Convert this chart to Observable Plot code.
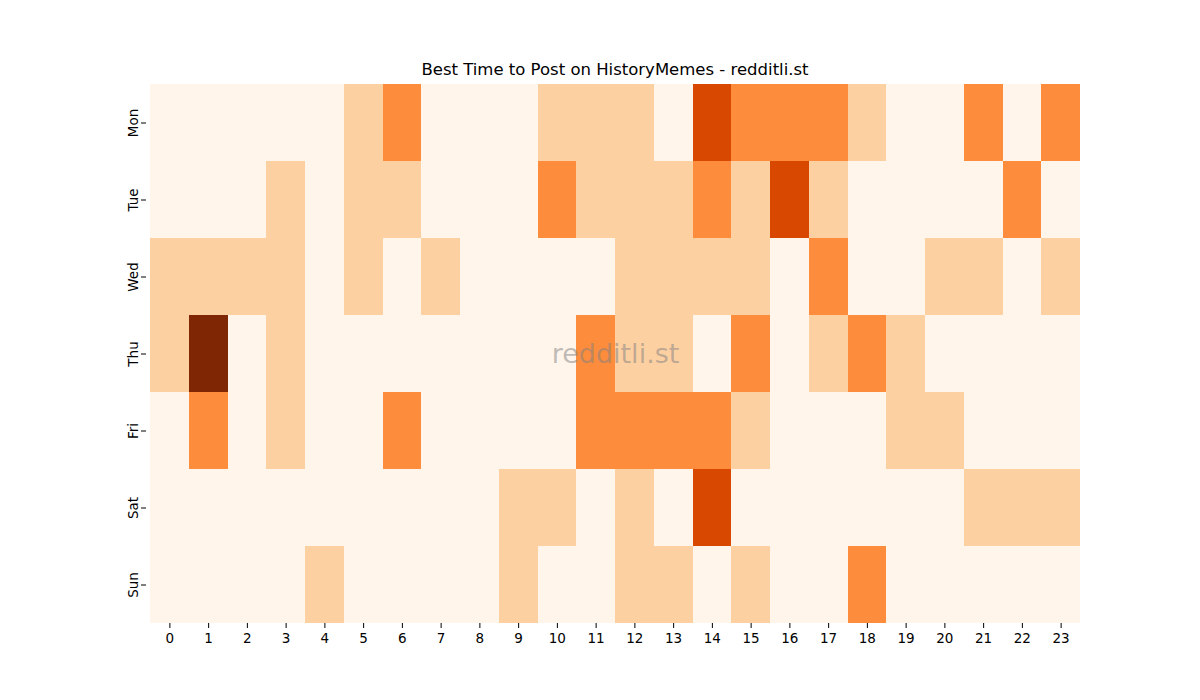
<!DOCTYPE html>
<html>
<head>
<meta charset="utf-8">
<script src="https://cdn.jsdelivr.net/npm/d3@7"></script>
<script src="https://cdn.jsdelivr.net/npm/@observablehq/plot@0.6"></script>
<style>
  html, body { margin: 0; padding: 0; background: #fff; }
  #wrap { width: 1200px; height: 700px; position: relative; font-family: "DejaVu Sans", sans-serif; }
  #title { position: absolute; left: 150px; width: 930px; top: 59px; line-height: 22px; text-align: center; font-size: 16.5px; color: #000; }
  #chart { position: absolute; left: 0; top: 84px; }
</style>
</head>
<body>
<div id="wrap">
  <div id="title">Best Time to Post on HistoryMemes - redditli.st</div>
  <div id="chart"></div>
</div>
<script>
const days = ["Mon", "Tue", "Wed", "Thu", "Fri", "Sat", "Sun"];
const hours = [0,1,2,3,4,5,6,7,8,9,10,11,12,13,14,15,16,17,18,19,20,21,22,23];
const mon = [0,0,0,0,0,1,2,0,0,0,1,1,1,0,3,2,2,2,1,0,0,2,0,2];
const tue = [0,0,0,1,0,1,1,0,0,0,2,1,1,1,2,1,3,1,0,0,0,0,2,0];
const wed = [1,1,1,1,0,1,0,1,0,0,0,0,1,1,1,1,0,2,0,0,1,1,0,1];
const thu = [1,4,0,1,0,0,0,0,0,0,0,2,1,1,0,2,0,1,2,1,0,0,0,0];
const fri = [0,2,0,1,0,0,2,0,0,0,0,2,2,2,2,1,0,0,0,1,1,0,0,0];
const sat = [0,0,0,0,0,0,0,0,0,1,1,0,1,0,3,0,0,0,0,0,0,1,1,1];
const sun = [0,0,0,0,1,0,0,0,0,1,0,0,1,1,0,1,0,0,2,0,0,0,0,0];
const levels = [0, 1, 2, 3, 4];
const levelColors = ["#fff5eb", "#fdd0a2", "#fd8d3c", "#d94801", "#7f2704"];
const watermark = "redditli.st";

const series = [mon, tue, wed, thu, fri, sat, sun];
const cells = [];
days.forEach((d, i) => hours.forEach((h, j) => cells.push({day: d, hour: h, value: series[i][j]})));

const chart = Plot.plot({
  width: 1200,
  height: 616,
  marginTop: 0,
  marginBottom: 77,
  marginLeft: 150,
  marginRight: 120,
  style: {fontFamily: "DejaVu Sans, sans-serif", fontSize: "13.5px", color: "#000", background: "transparent"},
  x: {type: "band", domain: hours, padding: 0, round: false, label: null},
  y: {type: "band", domain: days, padding: 0, round: false, label: null},
  color: {type: "ordinal", domain: levels, range: levelColors},
  marks: [
    Plot.cell(cells, {x: "hour", y: "day", fill: "value", inset: 0, shapeRendering: "crispEdges"}),
    Plot.text([watermark], {frameAnchor: "middle", text: d => d, fontSize: 27, fill: "#808080", fillOpacity: 0.5}),
    Plot.axisX({tickSize: 5, tickPadding: 5, label: null}),
    Plot.axisY({tickSize: 5, tickPadding: 4, tickRotate: -90, label: null, textAnchor: "middle", dx: -4})
  ]
});
document.getElementById("chart").appendChild(chart);
</script>
</body>
</html>
